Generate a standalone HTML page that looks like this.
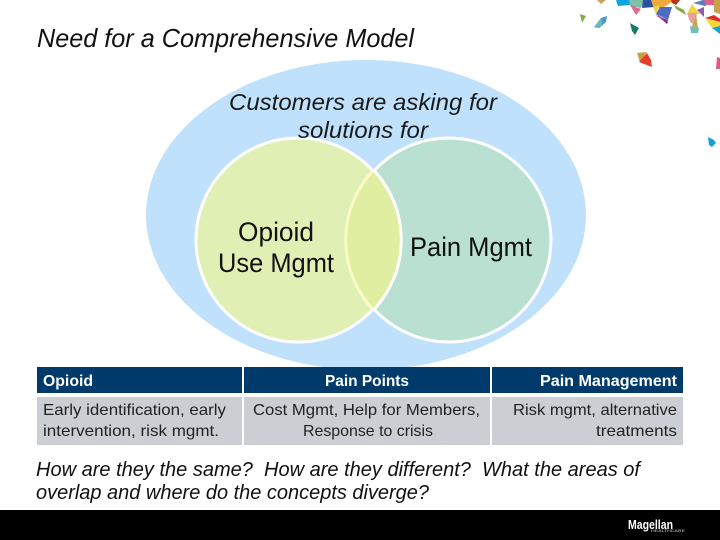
<!DOCTYPE html>
<html>
<head>
<meta charset="utf-8">
<style>
html,body{margin:0;padding:0;background:#fff;width:720px;height:540px;overflow:hidden}
svg{display:block}
.c{font-family:"Liberation Sans",sans-serif}
</style>
</head>
<body>
<svg width="720" height="540" viewBox="0 0 720 540" xmlns="http://www.w3.org/2000/svg" class="c">
<rect width="720" height="540" fill="#fff"/>
<ellipse cx="366" cy="215" rx="220" ry="155" fill="#bfe1fb"/>
<circle cx="449" cy="240" r="102" fill="#b9e0d0" stroke="#fff" stroke-width="3"/>
<circle cx="298" cy="240" r="102" fill="#e0efb4" stroke="#fff" stroke-width="3"/>
<path d="M373.500 170 A102 102 0 0 1 373.500 310 A102 102 0 0 1 373.500 170 Z" fill="#dfeea0"/>
<path d="M373.500 170 A102 102 0 0 0 373.500 310" fill="none" stroke="#fbfbc8" stroke-width="3"/>
<path d="M373.500 170 A102 102 0 0 1 373.500 310" fill="none" stroke="#fff" stroke-width="3"/>

<text x="37" y="47" font-size="26" font-style="italic" fill="#111" textLength="377" lengthAdjust="spacingAndGlyphs">Need for a Comprehensive Model</text>
<text x="229" y="110" font-size="23.500" font-style="italic" fill="#1a1a1a" textLength="268" lengthAdjust="spacingAndGlyphs">Customers are asking for</text>
<text x="298" y="138" font-size="23.500" font-style="italic" fill="#1a1a1a" textLength="130" lengthAdjust="spacingAndGlyphs">solutions for</text>
<text x="238" y="241" font-size="27" fill="#111" textLength="76" lengthAdjust="spacingAndGlyphs">Opioid</text>
<text x="218" y="272" font-size="27" fill="#111" textLength="116" lengthAdjust="spacingAndGlyphs">Use Mgmt</text>
<text x="410" y="256" font-size="27" fill="#111" textLength="122" lengthAdjust="spacingAndGlyphs">Pain Mgmt</text>

<rect x="37" y="367" width="205" height="26" fill="#003a6b"/>
<rect x="244" y="367" width="246" height="26" fill="#003a6b"/>
<rect x="492" y="367" width="191" height="26" fill="#003a6b"/>
<rect x="37" y="397" width="205" height="48" fill="#cbced2"/>
<rect x="244" y="397" width="246" height="48" fill="#cbced2"/>
<rect x="492" y="397" width="191" height="48" fill="#cbced2"/>

<g font-size="16" font-weight="bold" fill="#fff">
<text x="43" y="386" textLength="50" lengthAdjust="spacingAndGlyphs">Opioid</text>
<text x="325" y="386" textLength="84" lengthAdjust="spacingAndGlyphs">Pain Points</text>
<text x="540" y="386" textLength="137" lengthAdjust="spacingAndGlyphs">Pain Management</text>
</g>
<g font-size="16" fill="#222">
<text x="43" y="415" textLength="183" lengthAdjust="spacingAndGlyphs">Early identification, early</text>
<text x="43" y="436" textLength="176" lengthAdjust="spacingAndGlyphs">intervention, risk mgmt.</text>
<text x="253" y="415" textLength="227" lengthAdjust="spacingAndGlyphs">Cost Mgmt, Help for Members,</text>
<text x="303" y="436" textLength="130" lengthAdjust="spacingAndGlyphs">Response to crisis</text>
<text x="513" y="415" textLength="164" lengthAdjust="spacingAndGlyphs">Risk mgmt, alternative</text>
<text x="596" y="436" textLength="81" lengthAdjust="spacingAndGlyphs">treatments</text>
</g>

<g font-size="20" font-style="italic" fill="#111">
<text x="36" y="476" textLength="604" lengthAdjust="spacingAndGlyphs" xml:space="preserve" style="white-space:pre">How are they the same?  How are they different?  What the areas of</text>
<text x="36" y="499" textLength="393" lengthAdjust="spacingAndGlyphs">overlap and where do the concepts diverge?</text>
</g>

<rect x="0" y="510" width="720" height="30" fill="#000"/>
<text x="628" y="529" font-size="13" font-weight="bold" fill="#fff" textLength="45" lengthAdjust="spacingAndGlyphs">Magellan</text>
<text x="651" y="532" font-size="4" fill="#ccc" textLength="34" lengthAdjust="spacingAndGlyphs">HEALTHCARE</text>

<!-- confetti -->
<polygon points="580,14 586,16 582,23" fill="#8aa84a"/>
<polygon points="594,27 601,18 607,16 606,22 599,28" fill="#4a96d0"/>
<polygon points="594,27 601,18 603,26" fill="#6dbcae"/>
<polygon points="630,23 639,28 635,35 632,31" fill="#17796a"/>
<polygon points="597,0 606,0 601,4" fill="#c9a55a"/>
<polygon points="616,0 630,0 630,5 618,6" fill="#0ea5dc"/>
<polygon points="629,0 645,0 641,8 630,6" fill="#7fc0a8"/>
<polygon points="630,5 641,9 636,15" fill="#e2668d"/>
<polygon points="643,0 652,0 654,7 642,8" fill="#2c4ea0"/>
<polygon points="651,0 675,0 664,7 654,9" fill="#f0a93a"/>
<polygon points="653,7 660,5 656,14" fill="#f3d341"/>
<polygon points="660,7 672,7 668,20 656,14" fill="#4e6cc0"/>
<polygon points="655,15 668,20 667,24 660,18" fill="#8e2f8e"/>
<polygon points="655,13 668,22 667,24" fill="#8e2f8e"/>
<polygon points="671,0 680,0 676,5 672,3" fill="#b5321c"/>
<polygon points="674,5 684,10 686,15 676,9" fill="#88aa48"/>
<polygon points="692,4 700,14 687,14" fill="#f3d341"/>
<polygon points="687,13 697,13 695,25 690,22" fill="#e8a0a0"/>
<polygon points="696,14 698,28 691,30" fill="#c9a84d"/>
<polygon points="690,26 699,28 698,33 691,33" fill="#6fc0bc"/>
<polygon points="693,3 703,0 715,0 705,6" fill="#5a7fc0"/>
<polygon points="697,10 704,7 704,17" fill="#8a5cb0"/>
<polygon points="704,0 720,0 716,5 706,5" fill="#e0608a"/>
<polygon points="714,0 720,0 720,14 714,12" fill="#c9a04d"/>
<polygon points="705,18 714,15 720,19 720,22" fill="#d9302c"/>
<polygon points="705,18 720,22 720,28 712,28" fill="#f6d738"/>
<polygon points="712,28 720,26 720,34" fill="#12a5d8"/>
<polygon points="637,53 647,52 640,62" fill="#c9a040"/>
<polygon points="647,53 651,60 652,67 639,62" fill="#e2402a"/>
<polygon points="717,57 720,58 720,69 716,69" fill="#dc5a82"/>
<polygon points="708,137 714,140 716,143 712,147 709,145" fill="#15a0dc"/>
</svg>
</body>
</html>
